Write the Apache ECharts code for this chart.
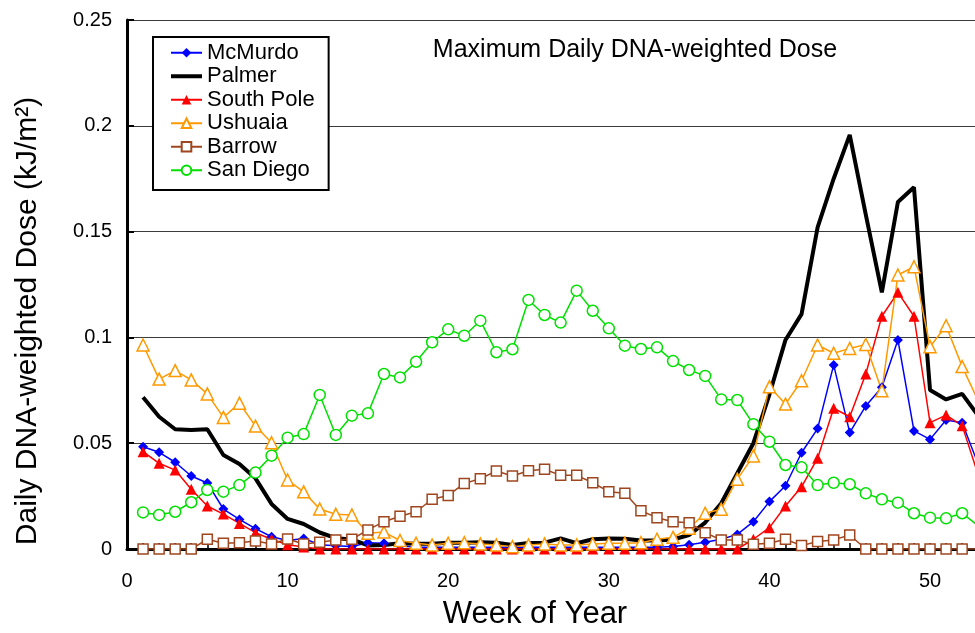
<!DOCTYPE html>
<html>
<head>
<meta charset="utf-8">
<title>Maximum Daily DNA-weighted Dose</title>
<script src="https://cdn.jsdelivr.net/npm/echarts@6/dist/echarts.min.js"></script>
<style>
  html, body { margin: 0; padding: 0; background: #fff; }
  #chart { width: 975px; height: 633px; }
</style>
</head>
<body>
<div id="chart"></div>
<script>
// Weekly maximum of daily DNA-weighted UV dose (kJ/m²), weeks 1..53
const weeks = Array.from({ length: 53 }, (_, i) => i + 1);

const mcmurdo = [
  0.0483, 0.0457, 0.0410, 0.0345, 0.0312, 0.0189, 0.0140, 0.0096, 0.0058, 0.0040,
  0.0050, 0.0020, 0.0015, 0.0012, 0.0030, 0.0027, 0.0015, 0.0008, 0.0008, 0.0008,
  0.0008, 0.0008, 0.0008, 0.0008, 0.0008, 0.0008, 0.0008, 0.0008, 0.0008, 0.0008,
  0.0008, 0.0008, 0.0008, 0.0012, 0.0020, 0.0032, 0.0046, 0.0069, 0.0129, 0.0224,
  0.0299, 0.0455, 0.0569, 0.0870, 0.0550, 0.0676, 0.0764, 0.0988, 0.0558, 0.0518,
  0.0610, 0.0597, 0.0400
];

const palmer = [
  0.0717, 0.0625, 0.0566, 0.0562, 0.0566, 0.0444, 0.0402, 0.0334, 0.0213, 0.0142,
  0.0118, 0.0078, 0.0051, 0.0045, 0.0017, 0.0019, 0.0027, 0.0025, 0.0025, 0.0030,
  0.0030, 0.0032, 0.0030, 0.0019, 0.0028, 0.0030, 0.0050, 0.0027, 0.0046, 0.0050,
  0.0048, 0.0040, 0.0040, 0.0045, 0.0066, 0.0125, 0.0216, 0.0358, 0.0500, 0.0730,
  0.0988, 0.1110, 0.1520, 0.1750, 0.1957, 0.1580, 0.1213, 0.1640, 0.1710, 0.0751,
  0.0707, 0.0733, 0.0630
];

const southPole = [
  0.0460, 0.0405, 0.0373, 0.0282, 0.0203, 0.0165, 0.0121, 0.0077, 0.0046, 0.0020,
  0.0010, 0, 0, 0, 0, 0, 0, 0, 0, 0,
  0, 0, 0, 0, 0, 0, 0, 0, 0, 0,
  0, 0, 0, 0, 0, 0, 0, 0, 0.0046, 0.0101,
  0.0203, 0.0294, 0.0429, 0.0665, 0.0625, 0.0827, 0.1100, 0.1213, 0.1100, 0.0597,
  0.0633, 0.0583, 0.0350
];

const ushuaia = [
  0.0964, 0.0803, 0.0843, 0.0799, 0.0733, 0.0622, 0.0689, 0.0581, 0.0502, 0.0326,
  0.0270, 0.0189, 0.0164, 0.0161, 0.0074, 0.0080, 0.0040, 0.0027, 0.0019, 0.0027,
  0.0030, 0.0024, 0.0019, 0.0011, 0.0019, 0.0024, 0.0019, 0.0019, 0.0024, 0.0027,
  0.0027, 0.0030, 0.0046, 0.0055, 0.0098, 0.0169, 0.0188, 0.0330, 0.0440, 0.0767,
  0.0685, 0.0795, 0.0964, 0.0925, 0.0948, 0.0967, 0.0748, 0.1295, 0.1334, 0.0956,
  0.1055, 0.0862, 0.0700
];

const barrow = [
  0, 0, 0, 0, 0.0046, 0.0027, 0.0030, 0.0038, 0.0024, 0.0047,
  0.0024, 0.0032, 0.0043, 0.0046, 0.0090, 0.0129, 0.0155, 0.0176, 0.0235, 0.0253,
  0.0310, 0.0332, 0.0369, 0.0345, 0.0370, 0.0377, 0.0348, 0.0348, 0.0313, 0.0271,
  0.0263, 0.0181, 0.0148, 0.0129, 0.0124, 0.0077, 0.0043, 0.0043, 0.0022, 0.0027,
  0.0046, 0.0016, 0.0035, 0.0043, 0.0066, 0, 0, 0, 0, 0,
  0, 0, 0
];

const sanDiego = [
  0.0173, 0.0161, 0.0176, 0.0221, 0.0279, 0.0271, 0.0302, 0.0361, 0.0441, 0.0526,
  0.0543, 0.0728, 0.0539, 0.0630, 0.0641, 0.0827, 0.0811, 0.0885, 0.0977, 0.1038,
  0.1008, 0.1079, 0.0930, 0.0944, 0.1177, 0.1106, 0.1070, 0.1221, 0.1126, 0.1043,
  0.0961, 0.0945, 0.0953, 0.0888, 0.0846, 0.0818, 0.0707, 0.0704, 0.0590, 0.0507,
  0.0397, 0.0386, 0.0302, 0.0313, 0.0306, 0.0263, 0.0235, 0.0219, 0.0169, 0.0148,
  0.0145, 0.0169, 0.0110
];

// Axis tick positions: a tick every week, labels every ten weeks
const weekTicks = Array.from({ length: 53 }, (_, i) => i);
const weekLabels = [0, 10, 20, 30, 40, 50];

const FONT = '"Liberation Sans", Arial, Helvetica, sans-serif';

const pairs = vals => weeks.map((w, i) => [w, vals[i]]);

function markedSeries(name, vals, color, symbol, size, hollow) {
  return {
    name,
    type: 'line',
    data: pairs(vals),
    symbol,
    symbolSize: size,
    showAllSymbol: true,
    lineStyle: { color, width: 1.5 },
    itemStyle: hollow
      ? { color: '#ffffff', borderColor: color, borderWidth: 1.5 }
      : { color, borderColor: color, borderWidth: 0 },
    emphasis: { disabled: true },
    z: 3
  };
}

const chart = echarts.init(document.getElementById('chart'), null, { renderer: 'canvas' });

chart.setOption({
  animation: false,
  backgroundColor: '#ffffff',
  textStyle: { fontFamily: FONT },
  grid: { left: 127, top: 20, bottom: 84, right: 0, containLabel: false },
  xAxis: {
    type: 'value',
    min: 0,
    max: 52.8,
    axisLine: { lineStyle: { color: '#000', width: 3 } },
    axisTick: {
      inside: true, length: 6, customValues: weekTicks,
      lineStyle: { color: '#000', width: 1.5 }
    },
    axisLabel: {
      color: '#000', fontSize: 20, margin: 22, fontFamily: FONT,
      customValues: weekLabels
    },
    splitLine: { show: false }
  },
  yAxis: {
    type: 'value',
    min: 0,
    max: 0.25,
    interval: 0.05,
    axisLine: { show: true, lineStyle: { color: '#000', width: 3 } },
    axisTick: { show: true, inside: true, length: 7, lineStyle: { color: '#000', width: 2 } },
    axisLabel: { color: '#000', fontSize: 20, margin: 15, fontFamily: FONT },
    splitLine: { show: true, lineStyle: { color: '#3a3a3a', width: 1 } }
  },
  legend: {
    orient: 'vertical',
    left: 153,
    top: 37,
    padding: [4, 14, 8, 16],
    borderColor: '#000',
    borderWidth: 2,
    backgroundColor: '#fff',
    itemWidth: 31,
    itemHeight: 12,
    itemGap: 0,
    itemTextGap: 6,
    textStyle: { fontSize: 22, lineHeight: 23.5, color: '#000', fontFamily: FONT },
    data: [
      'McMurdo',
      { name: 'Palmer', itemStyle: { opacity: 0 }, lineStyle: { width: 4 } },
      'South Pole', 'Ushuaia', 'Barrow', 'San Diego'
    ]
  },
  graphic: [
    {
      type: 'text',
      x: 635, y: 50,
      style: {
        text: 'Maximum Daily DNA-weighted Dose',
        font: '25px ' + FONT,
        fill: '#000',
        align: 'center',
        verticalAlign: 'middle'
      },
      z: 10
    },
    {
      type: 'text',
      x: 535, y: 614,
      style: {
        text: 'Week of Year',
        font: '31px ' + FONT,
        fill: '#000',
        align: 'center',
        verticalAlign: 'middle'
      }
    },
    {
      type: 'text',
      x: 28, y: 321,
      rotation: Math.PI / 2,
      style: {
        text: 'Daily DNA-weighted Dose (kJ/m²)',
        font: '30px ' + FONT,
        fill: '#000',
        align: 'center',
        verticalAlign: 'middle'
      }
    }
  ],
  series: [
    markedSeries('McMurdo', mcmurdo, '#0000ff', 'diamond', 10, false),
    {
      name: 'Palmer',
      type: 'line',
      data: pairs(palmer),
      symbol: 'none',
      lineStyle: { color: '#000000', width: 4 },
      itemStyle: { color: '#000000' },
      emphasis: { disabled: true },
      z: 3
    },
    markedSeries('South Pole', southPole, '#ff0000', 'triangle', 11, false),
    markedSeries('Ushuaia', ushuaia, '#ff9900', 'triangle', 12, true),
    markedSeries('Barrow', barrow, '#a0461e', 'rect', 10, true),
    markedSeries('San Diego', sanDiego, '#00e000', 'circle', 11, true)
  ]
});
</script>
</body>
</html>
